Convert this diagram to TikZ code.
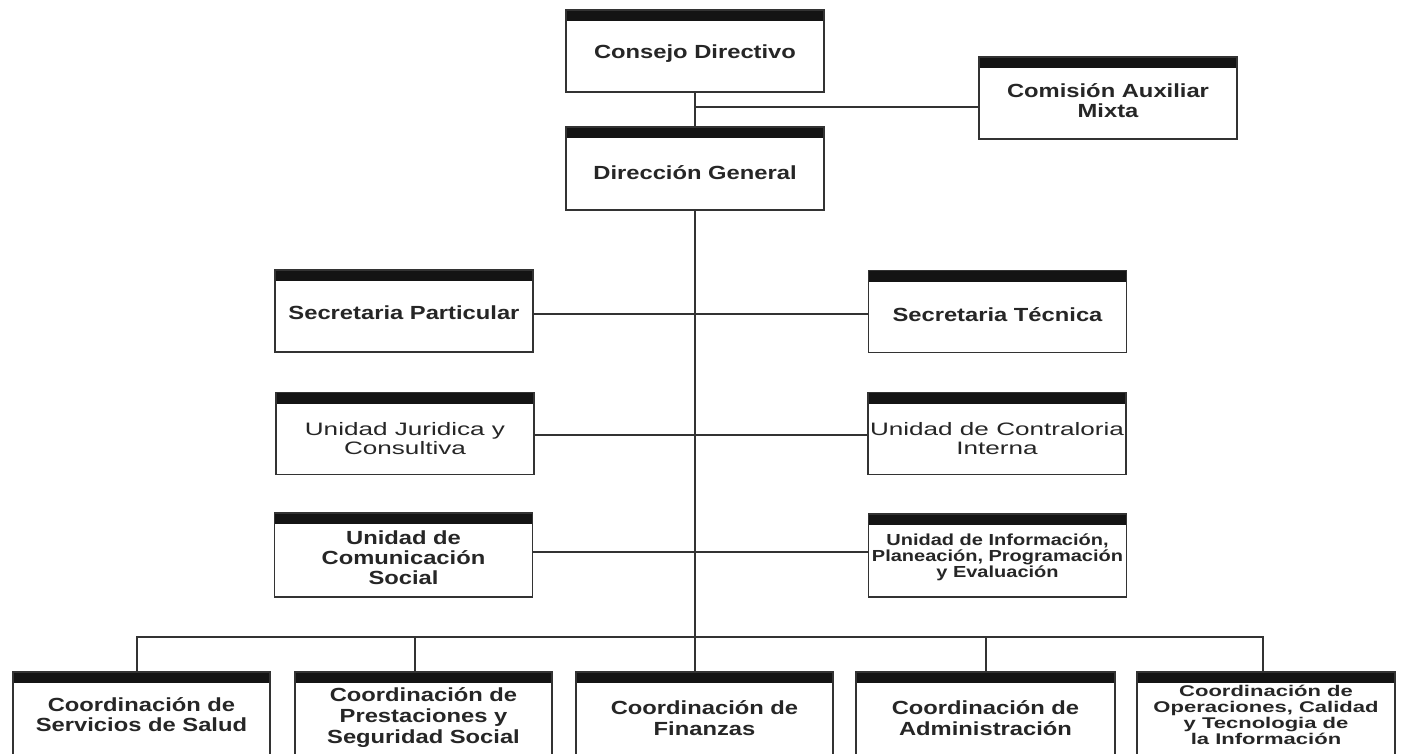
\documentclass[tikz,border=0pt]{standalone}
\usepackage{fontspec}
\newfontfamily\orgfont[FakeStretch=1.25]{Liberation Sans}
\newfontfamily\orgwide[FakeStretch=1.45]{Liberation Sans}
\newfontfamily\orgnarrow[FakeStretch=1.42]{Liberation Sans}
\begin{document}
\begin{tikzpicture}[x=1pt,y=-1pt]
\tikzset{
  unit/.style={draw=black!80, line width=1.3pt, fill=white, inner sep=0pt,
    minimum width=258pt, minimum height=82pt,
    path picture={\fill[black!92] (path picture bounding box.north west)
      rectangle ([yshift=-11pt]path picture bounding box.north east);}},
  tall/.style={minimum height=90pt},
  caption/.style={text=black!85, align=center, inner sep=0pt},
  bold/.style={caption, font=\orgfont\bfseries\fontsize{19}{20}\selectfont},
  boldloose/.style={caption, font=\orgfont\bfseries\fontsize{19}{21}\selectfont},
  plain/.style={caption, font=\orgwide\fontsize{18}{19}\selectfont},
  boldsmall/.style={caption, font=\orgfont\bfseries\fontsize{16}{16}\selectfont},
  boldnarrow/.style={caption, font=\orgnarrow\bfseries\fontsize{15.5}{16}\selectfont},
  wire/.style={draw=black!80, line width=1.1pt},
}
\useasboundingbox (0,0) rectangle (1405,753);
\clip (0,0) rectangle (1405,753);
\fill[white] (0,0) rectangle (1405,753);

% top level
\node[unit, label={[bold, yshift=-3pt]center:Consejo Directivo}] (cd) at (695,51) {};
\node[unit, minimum height=83pt, label={[bold, yshift=-4pt]center:Dirección General}] (dg) at (695,168.5) {};
\node[unit, label={[bold, yshift=-3pt]center:Comisión Auxiliar\\Mixta}] (cam) at (1108,98) {};

% staff units
\node[unit, label={[bold, yshift=-2pt]center:Secretaria Particular}] (sp) at (404,311) {};
\node[unit, label={[bold, yshift=-3pt]center:Secretaria Técnica}] (st) at (997.5,311.5) {};
\node[unit, label={[plain, yshift=-5pt]center:Unidad Juridica y\\Consultiva}] (uj) at (405,433.5) {};
\node[unit, label={[plain, yshift=-5pt]center:Unidad de Contraloria\\Interna}] (uc) at (997,433.5) {};
\node[unit, minimum height=84pt, label={[bold, yshift=-3pt]center:Unidad de\\Comunicación\\Social}] (ucs) at (403.5,555) {};
\node[unit, minimum height=83pt, label={[boldsmall, yshift=-2pt]center:Unidad de Información,\\Planeación, Programación\\y Evaluación}] (ui) at (997.5,555.5) {};

% coordinations
\node[unit, tall, minimum width=257pt, label={[bold, yshift=2pt]center:Coordinación de\\Servicios de Salud}] (b1) at (141.5,717) {};
\node[unit, tall, minimum width=257pt, label={[boldloose, yshift=-1pt]center:Coordinación de\\Prestaciones y\\Seguridad Social}] (b2) at (423.5,717) {};
\node[unit, tall, minimum width=257pt, label={[boldloose, yshift=-1pt]center:Coordinación de\\Finanzas}] (b3) at (704.5,717) {};
\node[unit, tall, minimum width=259pt, label={[boldloose, yshift=-1pt]center:Coordinación de\\Administración}] (b4) at (985.5,717) {};
\node[unit, tall, label={[boldnarrow, yshift=2pt]center:Coordinación de\\Operaciones, Calidad\\y Tecnologia de\\la Información}] (b5) at (1266,717) {};

% connectors
\coordinate (spine) at (695,0);
\coordinate (aux) at (695,107);
\coordinate (bus) at (0,637);
\coordinate (d1) at (137,0);
\coordinate (d2) at (415,0);
\coordinate (d4) at (986,0);
\coordinate (d5) at (1263,0);

\draw[wire] (cd.south -| spine) -- (dg.north -| spine);
\draw[wire] (aux) -- (aux -| cam.west);
\draw[wire] (dg.south -| spine) -- (b3.north -| spine);
\draw[wire] ([yshift=-3pt]sp.east) -- ([yshift=-3pt]sp.east -| st.west);
\draw[wire] ([yshift=-1.5pt]uj.east) -- ([yshift=-1.5pt]uj.east -| uc.west);
\draw[wire] ([yshift=3pt]ucs.east) -- ([yshift=3pt]ucs.east -| ui.west);
\draw[wire] (d1 |- b1.north) -- (d1 |- bus) -- (d5 |- bus) -- (d5 |- b5.north);
\draw[wire] (d2 |- bus) -- (d2 |- b2.north);
\draw[wire] (d4 |- bus) -- (d4 |- b4.north);
\end{tikzpicture}
\end{document}
